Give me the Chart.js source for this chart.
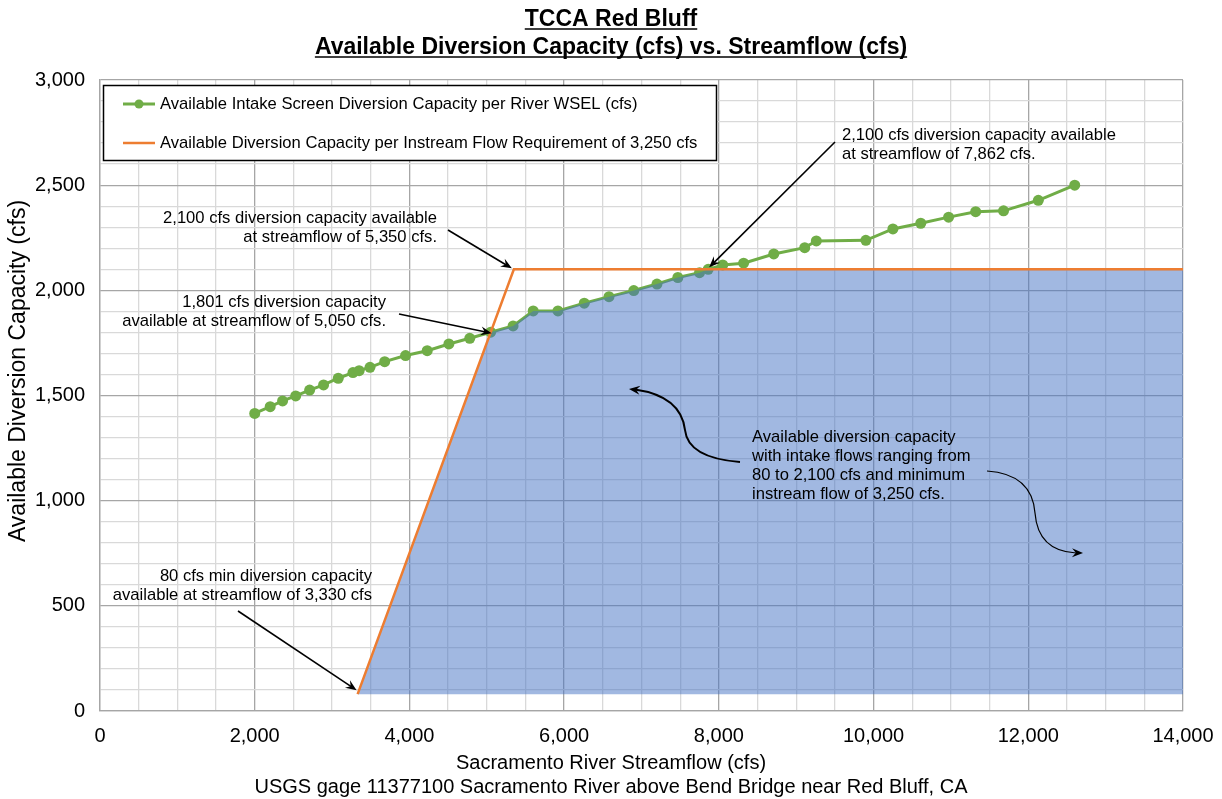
<!DOCTYPE html>
<html>
<head>
<meta charset="utf-8">
<script src="https://cdn.jsdelivr.net/npm/chart.js@4.4.1/dist/chart.umd.min.js"></script>
<style>
  html, body { margin: 0; padding: 0; background: #fff; }
  canvas { display: block; }
</style>
</head>
<body>
<canvas id="chart" width="1222" height="799"></canvas>
<script>
// Vazão do rio (cfs) e capacidade de desvio disponível (cfs)
const streamflow = [2000, 2200, 2360, 2530, 2710, 2890, 3080, 3270, 3350, 3490, 3680, 3950, 4230, 4510, 4780, 5050,
    5340, 5600, 5920, 6260, 6580, 6900, 7200, 7470, 7750, 7862, 8050, 8320, 8710, 9110, 9260, 9900,
    10250, 10610, 10970, 11320, 11680, 12130, 12600];
const capacity = [1415, 1447, 1474, 1498, 1526, 1550, 1582, 1609, 1618, 1634, 1661, 1690, 1713, 1745, 1772, 1801,
    1831, 1902, 1902, 1939, 1970, 1999, 2030, 2061, 2084, 2100, 2121, 2129, 2173, 2203, 2235, 2238,
    2292, 2319, 2348, 2374, 2378, 2428, 2500];

// Linha da exigência de vazão mínima
const requirementFlow = [3330, 5350, 14000];
const requirementCap = [80, 2100, 2100];

const seriesNames = [
    'Available Intake Screen Diversion Capacity per River WSEL (cfs)',
    'Available Diversion Capacity per Instream Flow Requirement of 3,250 cfs'
];
const titleLines = ['TCCA Red Bluff', 'Available Diversion Capacity (cfs) vs. Streamflow (cfs)'];
const xTitleLines = ['Sacramento River Streamflow (cfs)', 'USGS gage 11377100 Sacramento River above Bend Bridge near Red Bluff, CA'];
const yTitle = 'Available Diversion Capacity (cfs)';

const FONT = '"Liberation Sans", Arial, sans-serif';
const GREEN = '#70AD47';
const ORANGE = '#ED7D31';

// Área sombreada: sobe pela linha laranja, segue a curva verde até 2.100 cfs e depois fica plana
const shadeStartX = 5050, shadeEndX = 7862;
const shadePoints = [{ x: requirementFlow[0], y: requirementCap[0] }];
streamflow.forEach((x, i) => {
    if (x >= shadeStartX && x <= shadeEndX) shadePoints.push({ x: x, y: capacity[i] });
});
shadePoints.push({ x: requirementFlow[2], y: requirementCap[2] });

const fmt = v => v.toLocaleString('en-US');

function arrowHead(ctx, x, y, ang) {
    const L = 11, W = 4.5;
    ctx.beginPath();
    ctx.moveTo(x, y);
    ctx.lineTo(x - L * Math.cos(ang) + W * Math.sin(ang), y - L * Math.sin(ang) - W * Math.cos(ang));
    ctx.lineTo(x - 0.65 * L * Math.cos(ang), y - 0.65 * L * Math.sin(ang));
    ctx.lineTo(x - L * Math.cos(ang) - W * Math.sin(ang), y - L * Math.sin(ang) + W * Math.cos(ang));
    ctx.closePath();
    ctx.fill();
}

function straightArrow(ctx, x1, y1, x2, y2) {
    const ang = Math.atan2(y2 - y1, x2 - x1);
    ctx.beginPath();
    ctx.moveTo(x1, y1);
    ctx.lineTo(x2 - 6 * Math.cos(ang), y2 - 6 * Math.sin(ang));
    ctx.stroke();
    arrowHead(ctx, x2, y2, ang);
}

function textBlock(ctx, lines, x, y, align, lh) {
    ctx.textAlign = align;
    ctx.textBaseline = 'middle';
    lines.forEach((t, i) => ctx.fillText(t, x, y + i * lh));
}

// Plugin para títulos, anotações e legenda
const decorations = {
    id: 'decorations',
    afterDraw(chart) {
        const ctx = chart.ctx;
        const xs = chart.scales.x, ys = chart.scales.y;
        ctx.save();
        ctx.fillStyle = '#000';
        ctx.strokeStyle = '#000';

        // título
        ctx.font = 'bold 23px ' + FONT;
        ctx.textAlign = 'center';
        ctx.textBaseline = 'alphabetic';
        [26, 54].forEach((by, i) => {
            ctx.fillText(titleLines[i], 611, by);
            const w = ctx.measureText(titleLines[i]).width;
            ctx.lineWidth = 1.6;
            ctx.beginPath();
            ctx.moveTo(611 - w / 2, by + 3);
            ctx.lineTo(611 + w / 2, by + 3);
            ctx.stroke();
        });

        // títulos dos eixos
        ctx.font = '20px ' + FONT;
        textBlock(ctx, xTitleLines, 611, 763, 'center', 24);
        ctx.save();
        ctx.translate(19, 371);
        ctx.rotate(-Math.PI / 2);
        ctx.font = '23px ' + FONT;
        textBlock(ctx, [yTitle], 0, 0, 'center', 0);
        ctx.restore();

        // anotações
        ctx.font = '16.6px ' + FONT;
        ctx.lineWidth = 1.6;
        textBlock(ctx, ['2,100 cfs diversion capacity available', 'at streamflow of 7,862 cfs.'], 842, 135, 'left', 19.5);
        straightArrow(ctx, 835, 142, xs.getPixelForValue(7862) + 1, ys.getPixelForValue(2100) - 2);

        textBlock(ctx, ['2,100 cfs diversion capacity available', 'at streamflow of 5,350 cfs.'], 437, 218, 'right', 19.5);
        straightArrow(ctx, 448, 230, xs.getPixelForValue(5350) - 2, ys.getPixelForValue(2100) - 1);

        textBlock(ctx, ['1,801 cfs diversion capacity', 'available at streamflow of 5,050 cfs.'], 386, 302, 'right', 19.5);
        straightArrow(ctx, 399, 314, xs.getPixelForValue(5050) + 1, ys.getPixelForValue(1801) + 1);

        textBlock(ctx, ['80 cfs min diversion capacity', 'available at streamflow of 3,330 cfs'], 372, 576, 'right', 19.5);
        straightArrow(ctx, 238, 611, xs.getPixelForValue(3330) - 1, ys.getPixelForValue(80) - 4);

        textBlock(ctx, ['Available diversion capacity', 'with intake flows ranging from', '80 to 2,100 cfs and minimum', 'instream flow of 3,250 cfs.'], 752, 437, 'left', 19);

        // setas curvas
        ctx.lineWidth = 2;
        ctx.beginPath();
        ctx.moveTo(740, 462);
        ctx.quadraticCurveTo(688, 458, 685, 430);
        ctx.quadraticCurveTo(681, 396, 635, 389.5);
        ctx.stroke();
        arrowHead(ctx, 629, 389, Math.atan2(-6, -50));

        ctx.lineWidth = 1.2;
        ctx.beginPath();
        ctx.moveTo(987, 471);
        ctx.quadraticCurveTo(1032, 474, 1035, 513);
        ctx.quadraticCurveTo(1038, 551, 1076, 553);
        ctx.stroke();
        arrowHead(ctx, 1083, 553, Math.atan2(1, 44));

        // legenda
        ctx.fillStyle = '#fff';
        ctx.fillRect(103.5, 85.5, 613, 75);
        ctx.lineWidth = 1.5;
        ctx.strokeStyle = '#000';
        ctx.strokeRect(103.5, 85.5, 613, 75);

        ctx.lineWidth = 3;
        ctx.strokeStyle = GREEN;
        ctx.beginPath(); ctx.moveTo(123, 104); ctx.lineTo(155, 104); ctx.stroke();
        ctx.fillStyle = GREEN;
        ctx.beginPath(); ctx.arc(139, 104, 4.5, 0, Math.PI * 2); ctx.fill();
        ctx.strokeStyle = ORANGE;
        ctx.lineWidth = 2.5;
        ctx.beginPath(); ctx.moveTo(123, 143); ctx.lineTo(155, 143); ctx.stroke();

        ctx.fillStyle = '#000';
        ctx.font = '16.6px ' + FONT;
        textBlock(ctx, seriesNames, 160, 104, 'left', 39);
        ctx.restore();
    }
};

const ctx = document.getElementById('chart').getContext('2d');
const myChart = new Chart(ctx, {
    type: 'scatter',
    data: {
        datasets: [{
            label: seriesNames[0],
            data: streamflow.map((x, i) => ({ x: x, y: capacity[i] })),
            showLine: true,
            borderColor: GREEN,
            backgroundColor: GREEN,
            borderWidth: 3,
            pointRadius: 5.5,
            pointBorderWidth: 0,
            pointHoverRadius: 5.5,
            order: 3
        }, {
            label: seriesNames[1],
            data: requirementFlow.map((x, i) => ({ x: x, y: requirementCap[i] })),
            showLine: true,
            borderColor: ORANGE,
            borderWidth: 2.5,
            pointRadius: 0,
            order: 1
        }, {
            label: 'shade',
            data: shadePoints,
            showLine: true,
            borderWidth: 0,
            borderColor: 'rgba(0,0,0,0)',
            backgroundColor: 'rgba(68, 114, 196, 0.5)',
            pointRadius: 0,
            fill: { value: 80 },
            order: 2
        }]
    },
    options: {
        responsive: false,
        animation: false,
        layout: { padding: { top: 80, right: 39, left: 0, bottom: 0 } },
        plugins: {
            legend: { display: false },
            tooltip: { enabled: false },
            filler: { drawTime: 'beforeDatasetDraw' }
        },
        scales: {
            x: {
                type: 'linear',
                min: 0,
                max: 14000,
                afterFit: s => { s.height = 88; s.paddingLeft = 0; s.paddingRight = 0; },
                ticks: {
                    stepSize: 500,
                    autoSkip: false,
                    maxRotation: 0,
                    padding: 13,
                    color: '#000',
                    font: { family: FONT, size: 20 },
                    callback: v => (v % 2000 === 0 ? fmt(v) : '')
                },
                grid: {
                    drawTicks: false,
                    lineWidth: 1.3,
                    color: c => (c.tick && c.tick.value % 2000 === 0 ? '#a6a6a6' : '#d9d9d9')
                },
                border: { color: '#a6a6a6', width: 1.3 }
            },
            y: {
                min: 0,
                max: 3000,
                afterFit: s => { s.width = 100; s.paddingTop = 0; s.paddingBottom = 0; },
                ticks: {
                    stepSize: 100,
                    autoSkip: false,
                    padding: 15,
                    color: '#000',
                    font: { family: FONT, size: 20 },
                    callback: v => (v % 500 === 0 ? fmt(v) : '')
                },
                grid: {
                    drawTicks: false,
                    lineWidth: 1.3,
                    color: c => (c.tick && c.tick.value % 500 === 0 ? '#a6a6a6' : '#d9d9d9')
                },
                border: { color: '#a6a6a6', width: 1.3 }
            }
        }
    },
    plugins: [decorations]
});
</script>
</body>
</html>
